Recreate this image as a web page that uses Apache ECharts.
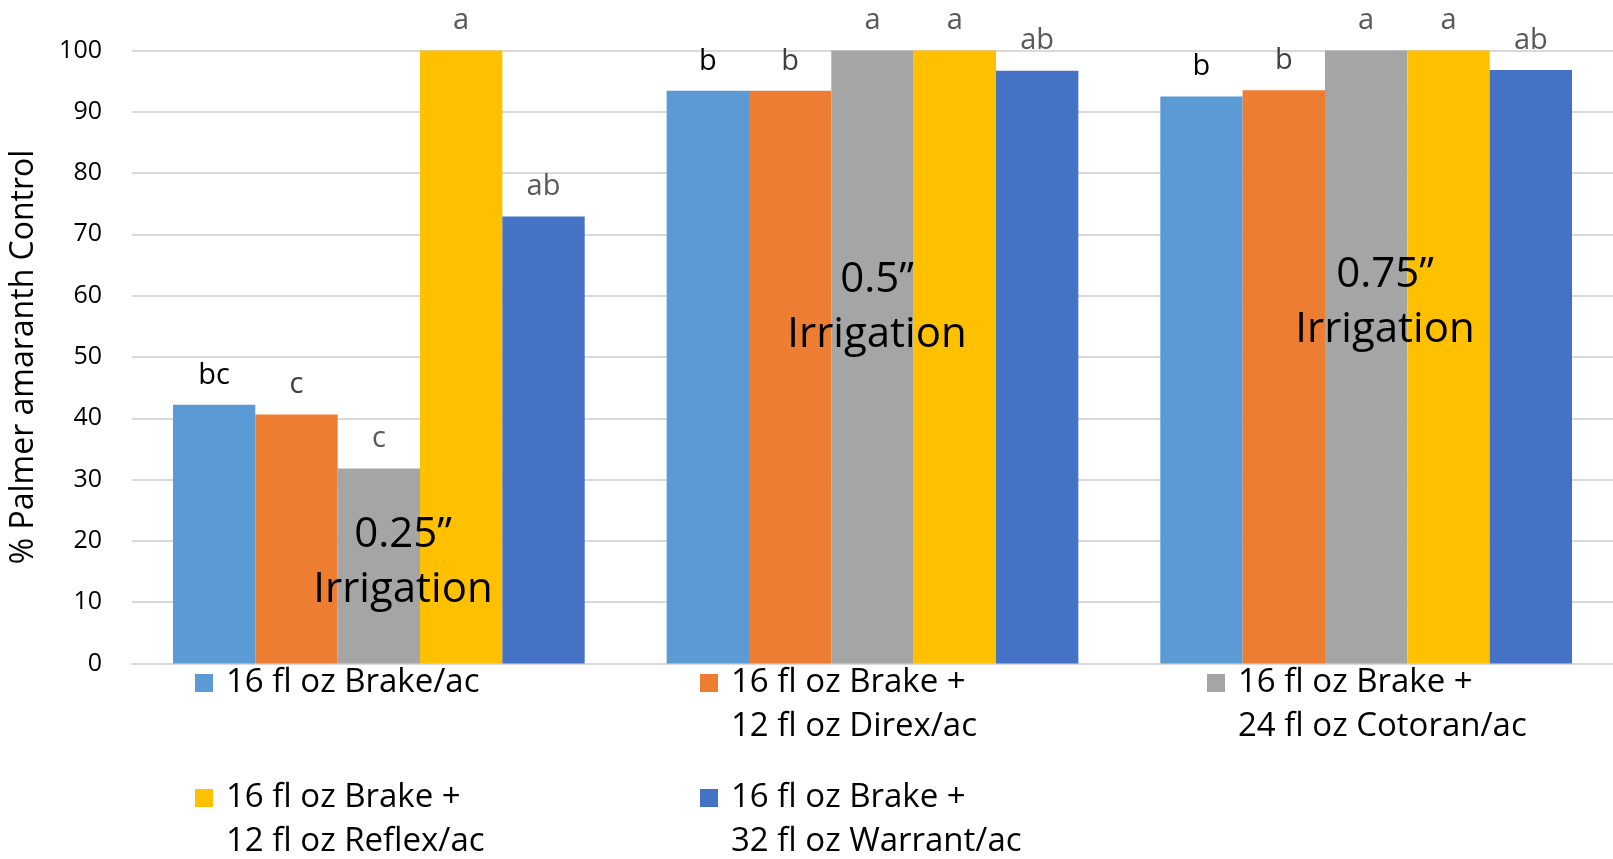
<!DOCTYPE html>
<html>
<head>
<meta charset="utf-8">
<script src="https://cdn.jsdelivr.net/npm/echarts@6/dist/echarts.min.js"></script>
<style>
  html, body { margin: 0; padding: 0; background: #fff; }
  #chart { width: 1613px; height: 859px; }
</style>
</head>
<body>
<div id="chart"></div>
<script>
// ---- Data ----
const categories = ['0.25" Irrigation', '0.5" Irrigation', '0.75" Irrigation'];
const seriesNames = [
  '16 fl oz Brake/ac',
  '16 fl oz Brake + 12 fl oz Direx/ac',
  '16 fl oz Brake + 24 fl oz Cotoran/ac',
  '16 fl oz Brake + 12 fl oz Reflex/ac',
  '16 fl oz Brake + 32 fl oz Warrant/ac'
];
const valBrake     = [42.2, 93.4, 92.5];
const valDirex     = [40.6, 93.4, 93.5];
const valCotoran   = [31.8, 100, 100];
const valReflex    = [100, 100, 100];
const valWarrant   = [72.9, 96.7, 96.8];
const lettersBrake   = ['bc', 'b', 'b'];
const lettersDirex   = ['c', 'b', 'b'];
const lettersCotoran = ['c', 'a', 'a'];
const lettersReflex  = ['a', 'a', 'a'];
const lettersWarrant = ['ab', 'ab', 'ab'];
const yTicks = [0, 10, 20, 30, 40, 50, 60, 70, 80, 90, 100];
const irrigationNotes = ['0.25\u201d\nIrrigation', '0.5\u201d\nIrrigation', '0.75\u201d\nIrrigation'];

// ---- Styles ----
const colors = ['#5B9BD5', '#ED7D31', '#A5A5A5', '#FFC000', '#4472C4'];
const letterColors = [
  ['#000000', '#000000', '#000000'],
  ['#404040', '#404040', '#404040'],
  ['#595959', '#595959', '#595959'],
  ['#595959', '#595959', '#595959'],
  ['#595959', '#595959', '#595959']
];
const FONT = '"Open Sans"';
const values = [valBrake, valDirex, valCotoran, valReflex, valWarrant];
const letters = [lettersBrake, lettersDirex, lettersCotoran, lettersReflex, lettersWarrant];

const series = seriesNames.map((name, i) => ({
  name: name,
  type: 'bar',
  barGap: '0%',
  barCategoryGap: '16.6%',
  itemStyle: { color: colors[i] },
  data: values[i].map((v, j) => ({
    value: v,
    label: {
      show: true,
      position: 'top',
      distance: 15,
      formatter: letters[i][j],
      color: letterColors[i][j],
      fontFamily: FONT,
      fontSize: 29
    }
  }))
}));

// legend layout: 3 columns, 2 rows
const legendPos = [
  { left: 195, top: 661 },
  { left: 700, top: 617 },
  { left: 1207, top: 617 },
  { left: 195, top: 732 },
  { left: 700, top: 732 }
];
function legendText(name) {
  const idx = name.indexOf(' + ');
  if (idx < 0) return name;
  return '\n' + name.slice(0, idx + 2) + '\n' + name.slice(idx + 3);
}
const legends = seriesNames.map((name, i) => ({
  data: [name],
  left: legendPos[i].left,
  top: legendPos[i].top,
  padding: 0,
  icon: 'rect',
  itemWidth: 18,
  itemHeight: 18,
  selectedMode: false,
  formatter: legendText,
  textStyle: {
    fontFamily: FONT,
    fontSize: 33,
    color: '#000',
    lineHeight: 44,
    padding: [0, 0, 0, 8]
  }
}));

const chart = echarts.init(document.getElementById('chart'));
const noteX = [403, 877, 1385];
const noteY = [508, 253, 248];
chart.setOption({
  animation: false,
  backgroundColor: '#fff',
  color: colors,
  grid: { left: 132, right: 0, top: 50.4, bottom: 195.5, containLabel: false },
  xAxis: {
    type: 'category',
    data: categories,
    axisLine: { show: true, lineStyle: { color: '#D9D9D9', width: 2 } },
    axisTick: { show: false },
    axisLabel: { show: false }
  },
  yAxis: {
    type: 'value',
    min: yTicks[0],
    max: yTicks[yTicks.length - 1],
    interval: 10,
    name: '% Palmer amaranth Control',
    nameLocation: 'middle',
    nameGap: 92,
    nameTextStyle: { fontFamily: FONT, fontSize: 32, color: '#000' },
    axisLine: { show: false },
    axisTick: { show: false },
    axisLabel: { fontFamily: FONT, fontSize: 25, color: '#000', margin: 30 },
    splitLine: { lineStyle: { color: '#D9D9D9', width: 2 } }
  },
  legend: legends,
  series: series,
  graphic: irrigationNotes.map((t, i) => ({
    type: 'text',
    x: noteX[i],
    y: noteY[i],
    silent: true,
    z: 100,
    style: {
      text: t,
      fill: '#000',
      font: '42px ' + FONT,
      align: 'center',
      verticalAlign: 'top',
      lineHeight: 55
    }
  }))
});
</script>
</body>
</html>
